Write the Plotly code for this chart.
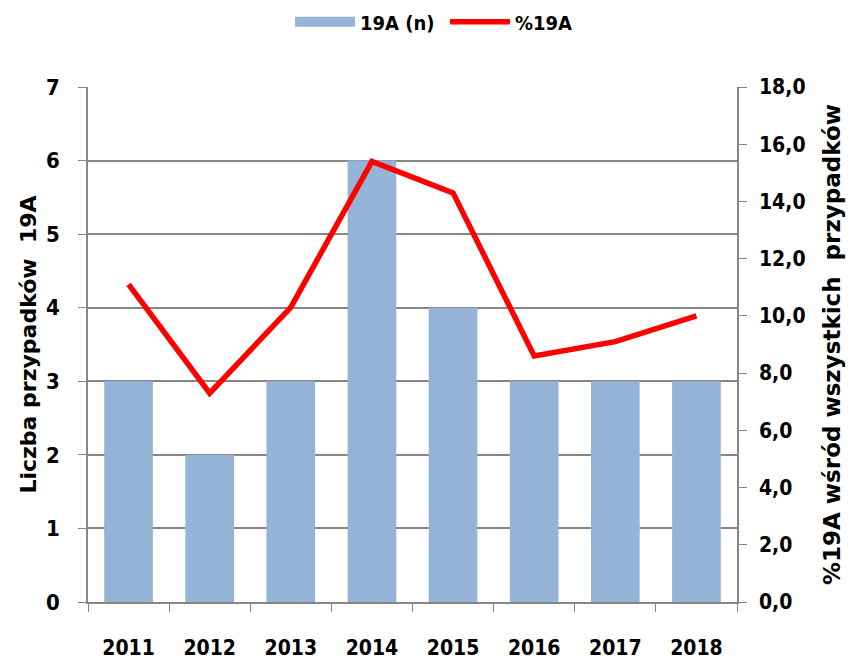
import plotly.graph_objects as go

years = ["2011", "2012", "2013", "2014", "2015", "2016", "2017", "2018"]
cases_19a = [3, 2, 3, 6, 4, 3, 3, 3]
pct_19a = [11.1, 7.3, 10.3, 15.4, 14.3, 8.6, 9.1, 10.0]

FONT = "DejaVu Sans Condensed, Liberation Sans Narrow, sans-serif"
TITLE_FONT = "DejaVu Sans, Liberation Sans, sans-serif"
BAR_COLOR = "#95B3D7"

fig = go.Figure()
fig.add_trace(go.Bar(
    x=years, y=cases_19a, name="19A (n)",
    marker=dict(color=BAR_COLOR, line=dict(width=0)),
    yaxis="y", showlegend=False, legendgroup="bars",
))
# legend-only swatch for the bars (wide rectangle like the original)
fig.add_trace(go.Scatter(
    x=[None], y=[None], name="19A (n)", mode="lines",
    line=dict(color=BAR_COLOR, width=18),
    legendgroup="bars", showlegend=True,
))
fig.add_trace(go.Scatter(
    x=years, y=pct_19a, name="%19A", mode="lines",
    line=dict(color="#FF0000", width=5.5),
    yaxis="y2",
))

fig.update_layout(
    width=856, height=662,
    paper_bgcolor="white", plot_bgcolor="white",
    margin=dict(l=88, r=119, t=87, b=60, autoexpand=False),
    separators=", ",
    bargap=0.4,
    font=dict(family=FONT, size=20, color="black"),
    showlegend=True,
    legend=dict(
        orientation="h", xref="container", x=290 / 856, xanchor="left",
        yref="container", y=0.967, yanchor="middle",
        font=dict(family=FONT, size=20, color="black", weight="bold"),
        traceorder="normal", itemwidth=60,
        entrywidth=80, entrywidthmode="pixels",
    ),
    xaxis=dict(
        type="category", automargin=False,
        showline=True, linecolor="#868686", linewidth=1.5,
        ticks="outside", tickson="boundaries", ticklen=8, tickcolor="#868686",
        tickfont=dict(family=FONT, size=21, weight="bold"),
        ticklabelstandoff=26,
        showgrid=False,
    ),
    yaxis=dict(
        range=[0, 7], dtick=1, automargin=False,
        showline=True, linecolor="#868686", linewidth=1.5,
        ticks="outside", ticklen=8, tickcolor="#868686",
        tickfont=dict(family=FONT, size=22, weight="bold"),
        ticklabelstandoff=14,
        showgrid=True, gridcolor="#868686", gridwidth=2,
        zeroline=False,
        title=dict(text="Liczba przypadków  19A", standoff=3,
                   font=dict(family=TITLE_FONT, size=22, weight="bold")),
    ),
    yaxis2=dict(
        range=[0, 18], dtick=2, tickformat=".1f", automargin=False,
        overlaying="y", side="right",
        showline=True, linecolor="#868686", linewidth=1.5,
        ticks="outside", ticklen=8, tickcolor="#868686",
        tickfont=dict(family=FONT, size=21, weight="bold"),
        ticklabelstandoff=8,
        showgrid=False, zeroline=False,
        title=dict(text="%19A wśród wszystkich  przypadków", standoff=19,
                   font=dict(family=TITLE_FONT, size=23, weight="bold")),
    ),
)

fig.write_html("out.html", config={"displayModeBar": False},
               post_script="document.body.style.margin='0px';")
